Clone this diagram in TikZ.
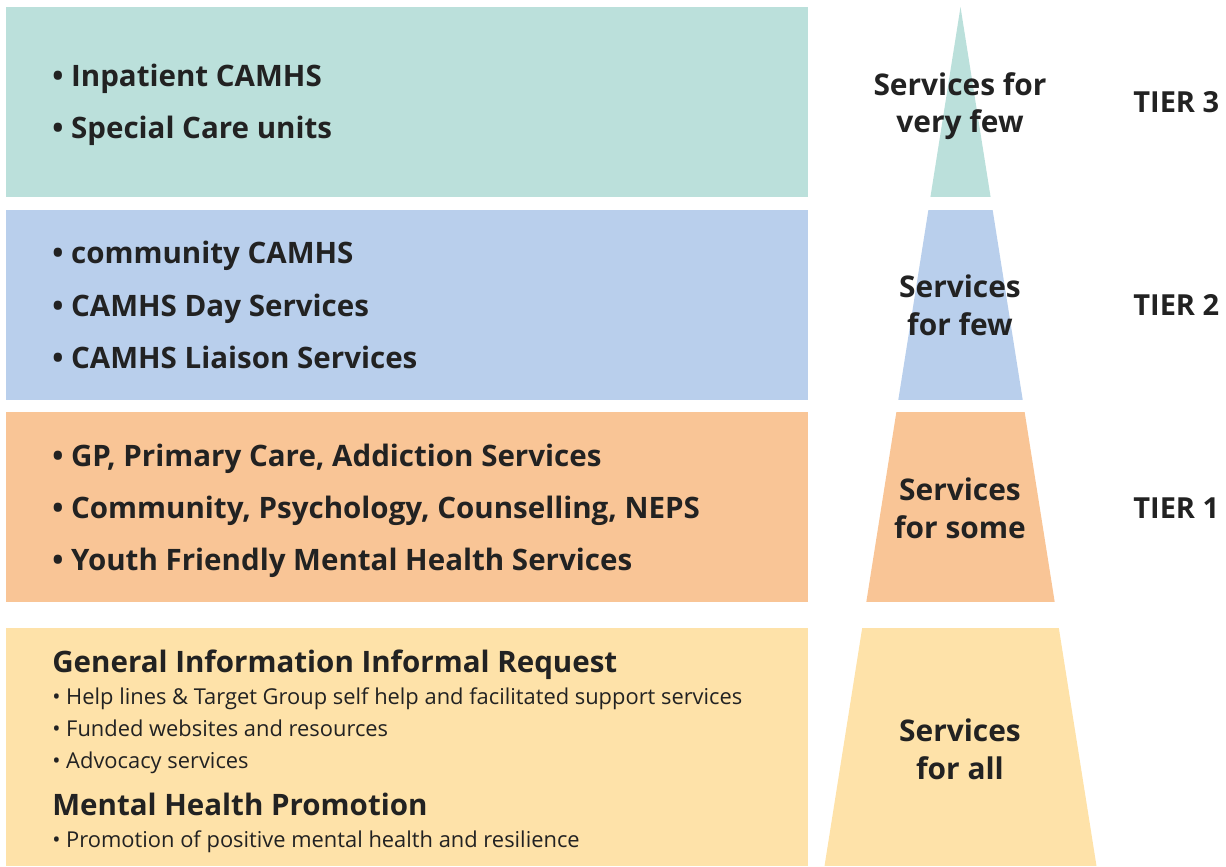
\documentclass[tikz,border=0pt]{standalone}
\usepackage{fontspec}
\setmainfont{Open Sans}
\definecolor{tealband}{HTML}{BBE0DB}
\definecolor{blueband}{HTML}{B9CFEC}
\definecolor{orangeband}{HTML}{F9C596}
\definecolor{yellowband}{HTML}{FEE2A9}
\definecolor{ink}{HTML}{222222}

\begin{document}
\begin{tikzpicture}[x=0.2mm,y=-0.2mm,
item/.style={anchor=base west,inner sep=0pt,text=ink,font=\fontsize{16.8}{19}\selectfont\bfseries},
sub/.style={anchor=base west,inner sep=0pt,text=ink,font=\fontsize{12.45}{14}\selectfont},
lvl/.style={anchor=base,inner sep=0pt,text=ink,font=\fontsize{17}{19}\selectfont\bfseries},
tier/.style={anchor=base west,inner sep=0pt,text=ink,font=\fontsize{16.5}{19}\selectfont\bfseries}]
\useasboundingbox(0,0)rectangle(1226,866);
\fill[tealband](6,7)rectangle(808,197);\fill[blueband](6,210)rectangle(808,400);
\fill[orangeband](6,412)rectangle(808,602);\fill[yellowband](6,628)rectangle(808,866);
% pyramid, cut into the same bands
\begin{scope}\clip(960.5,7)--(824.5,866)--(1096.5,866)--cycle;
\fill[tealband](820,0)rectangle(1100,197);\fill[blueband](820,210)rectangle(1100,400);
\fill[orangeband](820,412)rectangle(1100,602);\fill[yellowband](820,628)rectangle(1100,866);
\end{scope}
\node[item](i1)at(52,87){• Inpatient CAMHS};\node[item](i2)at(52,139){• Special Care units};
\node[item](c1)at(52,264){• community CAMHS};\node[item](c2)at(52,316){• CAMHS Day Services};\node[item](c3)at(52,368){• CAMHS Liaison Services};
\node[item](g1)at(52,466){• GP, Primary Care, Addiction Services};\node[item](g2)at(52,518){• Community, Psychology, Counselling, NEPS};\node[item](g3)at(52,570){• Youth Friendly Mental Health Services};
\node[item](h1)at(52,672){General Information Informal Request};
\node[sub](s1)at(52,704){• Help lines \& Target Group self help and facilitated support services};
\node[sub](s2)at(52,736){• Funded websites and resources};\node[sub](s3)at(52,768){• Advocacy services};
\node[item](h2)at(52,815){Mental Health Promotion};
\node[sub](s4)at(52,847){• Promotion of positive mental health and resilience};
\node[lvl](l3a)at(960,96){Services for};\node[lvl](l3b)at(960,133){very few};
\node[lvl](l2a)at(960,298){Services};\node[lvl](l2b)at(960,335){for few};
\node[lvl](l1a)at(960,500){Services};\node[lvl](l1b)at(960,538){for some};
\node[lvl](l0a)at(960,741){Services};\node[lvl](l0b)at(960,779){for all};
\node[tier](t3)at(1133,113){TIER 3};\node[tier](t2)at(1133,315){TIER 2};\node[tier](t1)at(1133,518){TIER 1};
\end{tikzpicture}
\end{document}
